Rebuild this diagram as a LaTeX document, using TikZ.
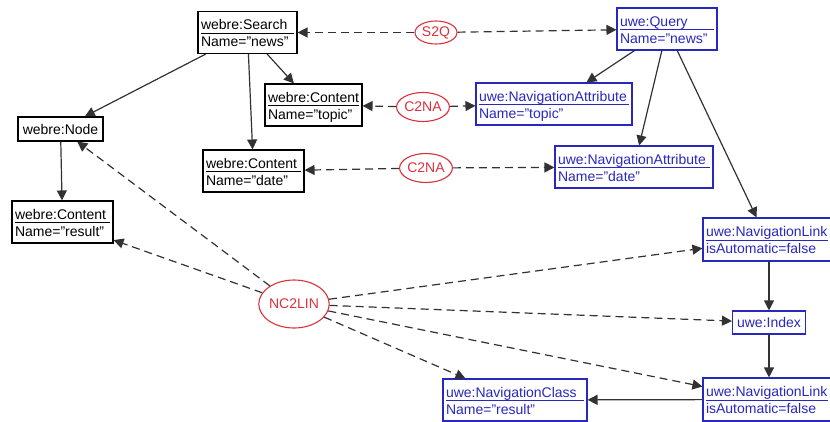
\documentclass[tikz,border=0pt]{standalone}
\usepackage{fontspec}
\setmainfont{Liberation Sans}
\usetikzlibrary{arrows.meta,shapes.geometric}
\definecolor{uweblue}{RGB}{40,40,190}
\definecolor{relred}{RGB}{220,50,60}
\definecolor{edgegray}{RGB}{50,50,50}
\newcommand\twoline[3]{{\renewcommand\arraystretch{0.1}\begin{tabular}{@{}p{#1}@{}}\rule{0pt}{14pt}#2\rule[-3pt]{0pt}{3pt}\\\hline\rule{0pt}{13pt}#3\rule[-3pt]{0pt}{3pt}\end{tabular}}}
\setlength\arrayrulewidth{1pt}
\begin{document}
\begin{tikzpicture}[x=1pt,y=-1pt,
  every node/.style={font=\fontsize{14}{19}\selectfont},
  wbox/.style={draw=black, text=black, line width=1.1pt, rectangle, inner xsep=3pt, inner ysep=4pt, fill=white},
  ubox/.style={wbox, draw=uweblue, text=uweblue},
  rel/.style={ellipse, draw=relred, text=relred, line width=1.1pt, inner sep=0pt, fill=white},
  solidarr/.style={draw=edgegray, line width=1.2pt, -{Triangle[length=10pt,width=10pt]}},
  dasharr/.style={solidarr, dash pattern=on 8pt off 5pt}
]
\useasboundingbox (0,0) rectangle (830,421);
\clip (0,0) rectangle (830,421);

% webre boxes
\node[wbox, minimum width=99pt, minimum height=42pt] (search) at (247.5,32.5) {\twoline{93pt}{webre:Search}{Name="news"}};
\node[wbox, minimum width=97pt, minimum height=42pt] (ctopic) at (313.5,105) {\twoline{91pt}{webre:Content}{Name="topic"}};
\node[wbox, minimum width=85pt, minimum height=24pt, inner ysep=2pt] (node) at (60.5,129) {webre:Node};
\node[wbox, minimum width=101pt, minimum height=42pt] (cdate) at (253.5,171) {\twoline{95pt}{webre:Content}{Name="date"}};
\node[wbox, minimum width=101pt, minimum height=42pt] (cresult) at (62.5,222) {\twoline{95pt}{webre:Content}{Name="result"}};

% uwe boxes
\node[ubox, minimum width=100pt, minimum height=42pt] (query) at (667,29) {\twoline{94pt}{uwe:Query}{Name="news"}};
\node[ubox, minimum width=156pt, minimum height=42pt] (natopic) at (554,104) {\twoline{150pt}{uwe:NavigationAttribute}{Name="topic"}};
\node[ubox, minimum width=158pt, minimum height=42pt] (nadate) at (634,167) {\twoline{152pt}{uwe:NavigationAttribute}{Name="date"}};
\node[ubox, minimum width=128pt, minimum height=43pt] (nl1) at (767,239.5) {\twoline{122pt}{uwe:NavigationLink}{isAutomatic=false}};
\node[ubox, minimum width=73pt, minimum height=23pt, inner ysep=2pt] (index) at (769,322.5) {uwe:Index};
\node[ubox, minimum width=128pt, minimum height=43pt] (nl2) at (767,399.5) {\twoline{122pt}{uwe:NavigationLink}{isAutomatic=false}};
\node[ubox, minimum width=144pt, minimum height=42pt] (nclass) at (515,400) {\twoline{138pt}{uwe:NavigationClass}{Name="result"}};

% relations
\node[rel, minimum width=42pt, minimum height=23pt] (s2q) at (436,32.5) {S2Q};
\node[rel, minimum width=50pt, minimum height=29pt] (c2na1) at (423,107) {C2NA};
\node[rel, minimum width=52pt, minimum height=29pt] (c2na2) at (426,168) {C2NA};
\node[rel, minimum width=62pt, minimum height=48pt] (nc2lin) at (294,304) {NC2LIN};

% solid edges
\draw[solidarr] (search) -- (node);
\draw[solidarr] (search) -- (cdate);
\draw[solidarr] (search) -- (ctopic);
\draw[solidarr] (node) -- (cresult);
\draw[solidarr] (query) -- (natopic);
\draw[solidarr] (query) -- (nadate);
\draw[solidarr] (query) -- (nl1);
\draw[solidarr] (index.north |- nl1.south) -- (index.north);
\draw[solidarr] (index.south) -- (index.south |- nl2.north);
\draw[solidarr] (nl2) -- (nclass);

% dashed edges
\draw[dasharr] (s2q) -- (search);
\draw[dasharr] (s2q) -- (query);
\draw[dasharr] (c2na1) -- (ctopic);
\draw[dasharr] (c2na1) -- (natopic);
\draw[dasharr] (c2na2) -- (cdate);
\draw[dasharr] (c2na2) -- (nadate);
\draw[dasharr] (nc2lin) -- (node);
\draw[dasharr] (nc2lin) -- (cresult);
\draw[dasharr] (nc2lin) -- (nl1);
\draw[dasharr] (nc2lin) -- (index);
\draw[dasharr] (nc2lin) -- (nl2);
\draw[dasharr] (nc2lin) -- (nclass);
\end{tikzpicture}
\end{document}
